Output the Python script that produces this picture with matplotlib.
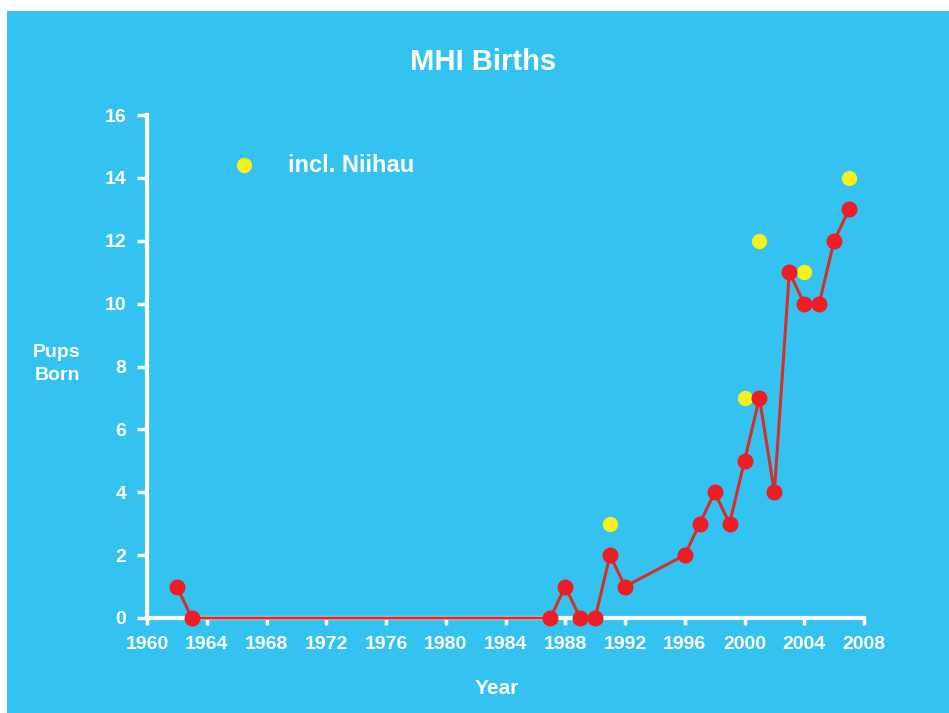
import matplotlib
matplotlib.use("Agg")
import matplotlib.pyplot as plt
from matplotlib.patches import Rectangle

years = [1962, 1963, 1987, 1988, 1989, 1990, 1991, 1992, 1996, 1997, 1998, 1999,
         2000, 2001, 2002, 2003, 2004, 2005, 2006, 2007]
pups = [1, 0, 0, 1, 0, 0, 2, 1, 2, 3, 4, 3, 5, 7, 4, 11, 10, 10, 12, 13]
niihau_years = [1991, 2000, 2001, 2004, 2007]
niihau_pups = [3, 7, 12, 11, 14]
xticks = list(range(1960, 2009, 4))
yticks = list(range(0, 17, 2))

BG = "#34C3F0"
plt.rcParams['font.family'] = ['Liberation Sans', 'DejaVu Sans']

fig = plt.figure(figsize=(9.49, 7.13), dpi=100)
fig.patch.set_facecolor("white")
fig.patches.append(Rectangle((7/949, 0), 1 - 7/949, 1 - 11/713, transform=fig.transFigure,
                             facecolor=BG, edgecolor="none", zorder=-10))

ax = fig.add_axes([147/949, 1 - 618/713, (864 - 147)/949, (618 - 115)/713])
ax.set_facecolor("none")
ax.set_xlim(1960, 2008)
ax.set_ylim(0, 16)

ax.plot(niihau_years, niihau_pups, linestyle="none", marker="o", markersize=10,
        color="#F5F01E", markeredgecolor="#F5F01E", zorder=4, clip_on=False)
ax.plot(years, pups, color="#D2302A", linewidth=2.2, marker="o", markersize=10.5,
        markerfacecolor="#EE1C24", markeredgecolor="#EE1C24", zorder=5, clip_on=False)

for s in ["top", "right"]:
    ax.spines[s].set_visible(False)
for s in ["left", "bottom"]:
    ax.spines[s].set_color("white")
    ax.spines[s].set_linewidth(3)
    ax.spines[s].set_zorder(2)

ax.set_xticks(xticks)
ax.set_yticks(yticks)
ax.tick_params(axis="both", colors="white", width=2.5, labelsize=14)
ax.tick_params(axis="x", length=5, pad=8)
ax.tick_params(axis="y", length=7, pad=8)
for lab in ax.get_xticklabels() + ax.get_yticklabels():
    lab.set_fontweight("bold")

fig.text(483/949, 1 - 62/713, "MHI Births", color="white", fontsize=21, fontweight="bold",
         ha="center", va="center")
fig.text(57/949, 1 - 364/713, "Pups\nBorn", color="white", fontsize=14, fontweight="bold",
         ha="center", va="center", linespacing=1.45)
fig.text(497/949, 1 - 688/713, "Year", color="white", fontsize=15, fontweight="bold",
         ha="center", va="center")

# legend
ax.plot([1966.5], [14.4], marker="o", markersize=10, color="#F5F01E", linestyle="none", zorder=4)
fig.text(288/949, 1 - 165/713, "incl. Niihau", color="white", fontsize=17, fontweight="bold",
         ha="left", va="center")

fig.savefig("out.png", dpi=100, facecolor=fig.get_facecolor())
